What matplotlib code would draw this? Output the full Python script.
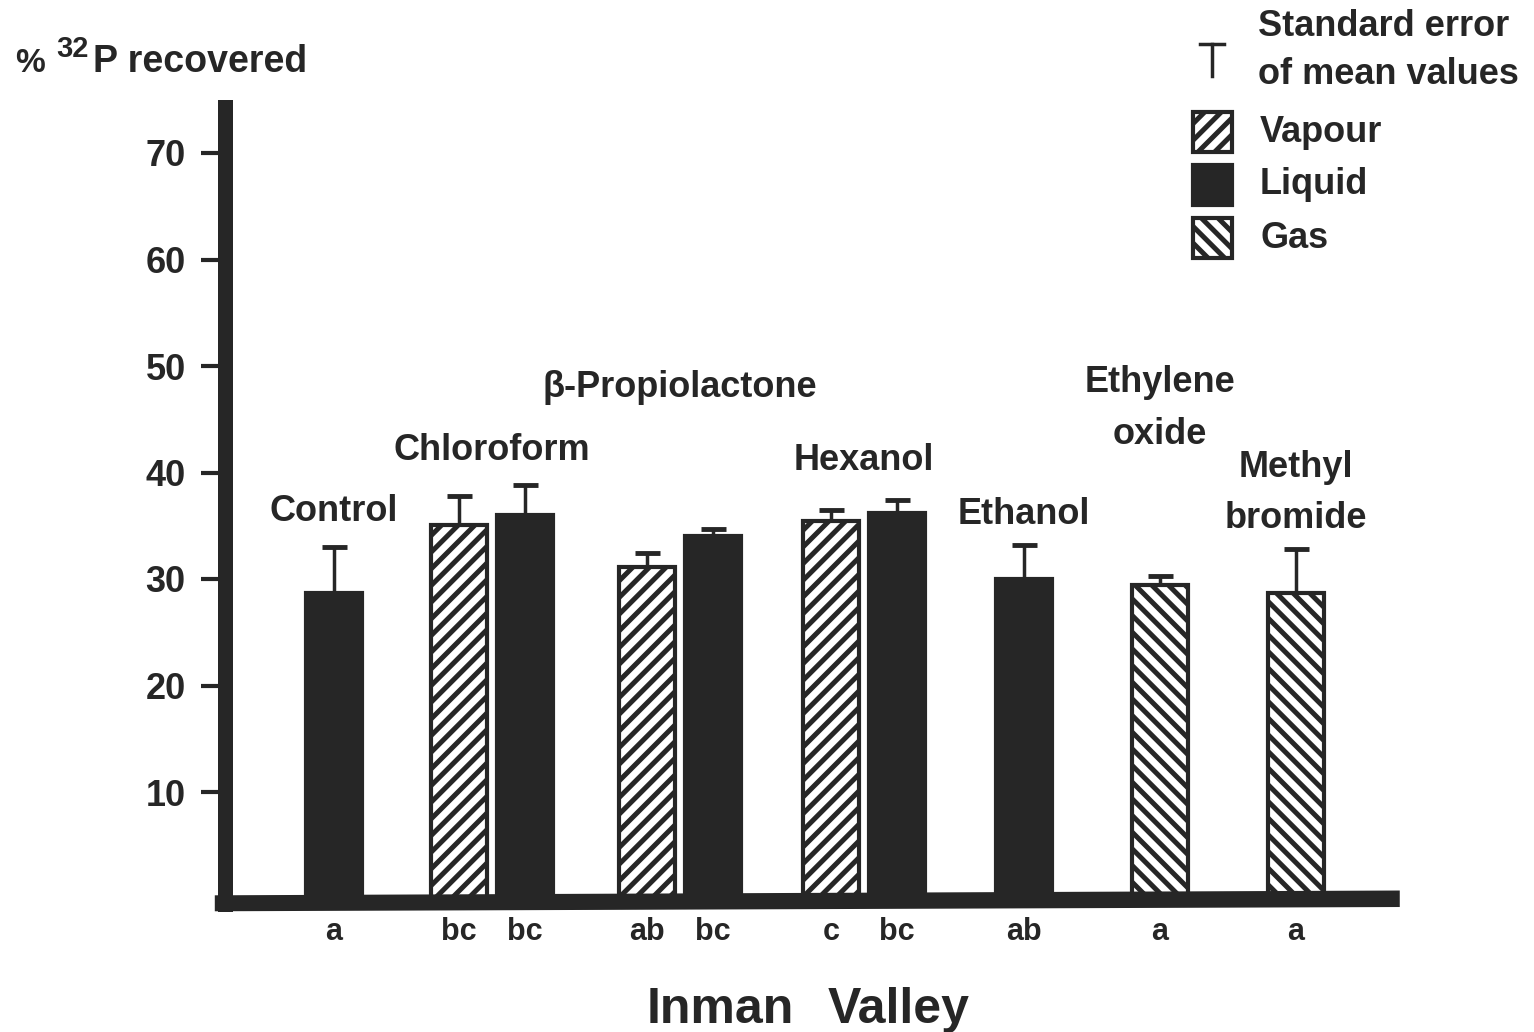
import matplotlib
matplotlib.use('Agg')
import matplotlib.pyplot as plt
from matplotlib.patches import Rectangle, Polygon
from matplotlib.lines import Line2D

plt.rcParams['font.family'] = ['Liberation Sans', 'DejaVu Sans']
plt.rcParams['font.weight'] = 'bold'
plt.rcParams['hatch.linewidth'] = 3.6

# treatments, one bar each
groups = ['Control', 'Chloroform', 'β-Propiolactone', 'Hexanol', 'Ethanol',
          'Ethylene\noxide', 'Methyl\nbromide']
bar_group = [0, 1, 1, 2, 2, 3, 3, 4, 5, 6]
bar_phase = ['Liquid', 'Vapour', 'Liquid', 'Vapour', 'Liquid', 'Vapour', 'Liquid',
             'Liquid', 'Gas', 'Gas']
means = [28.7, 35.1, 36.0, 31.1, 34.0, 35.4, 36.2, 30.0, 29.4, 28.7]
sems = [4.3, 2.7, 2.8, 1.3, 0.7, 1.1, 1.2, 3.2, 0.9, 4.1]
letters = ['a', 'bc', 'bc', 'ab', 'bc', 'c', 'bc', 'ab', 'a', 'a']
yticks = [10, 20, 30, 40, 50, 60, 70]

# layout
group_x = [1.93, 4.75, 8.1, 11.39, 14.25, 16.68, 19.1]
label_y = [36.3, 42.1, 48.0, 41.1, 36.1, 46.0, 38.1]
pair_off = 0.59
bar_w = 1.0

DARK = '#262626'
W, H = 1534, 1032
styles = {
    'Vapour': dict(facecolor='white', hatch='//'),
    'Liquid': dict(facecolor=DARK, hatch=None),
    'Gas': dict(facecolor='white', hatch='\\\\'),
}

fig = plt.figure(figsize=(W / 100, H / 100), dpi=100)
ax = fig.add_axes([226 / W, (H - 898.5) / H, 1176 / W, (898.5 - 99.75) / H])
ax.set_xlim(0, 21)
ax.set_ylim(0, 75)

# bar positions: single bars sit on the group centre, pairs straddle it
xs = []
for i, g in enumerate(bar_group):
    if bar_group.count(g) == 1:
        xs.append(group_x[g])
    else:
        first = bar_group.index(g)
        xs.append(group_x[g] + (-pair_off if i == first else pair_off))

for x, m, ph in zip(xs, means, bar_phase):
    ax.bar(x, m, width=bar_w, edgecolor=DARK, linewidth=3, zorder=2, **styles[ph])

ax.errorbar(xs, means, yerr=[[0] * len(sems), sems], fmt='none', ecolor=DARK,
            elinewidth=2.5, capsize=9, capthick=3.5, zorder=1)

for gx, gy, name in zip(group_x, label_y, groups):
    ax.text(gx, gy, name, ha='center', va='center', fontsize=26, color=DARK,
            linespacing=1.6)

for x, lt in zip(xs, letters):
    ax.text(x, -3.15, lt, ha='center', va='center', fontsize=22, color=DARK,
            clip_on=False)

# heavy axes drawn as filled bands
for s in ax.spines.values():
    s.set_visible(False)
ax.add_patch(Polygon([(-0.2, 0.3), (20.96, 0.75), (20.96, -0.8), (-0.2, -1.2)],
                     closed=True, facecolor=DARK, edgecolor='none',
                     clip_on=False, zorder=3))
ax.add_patch(Rectangle((-0.14, -1.25), 0.27, 76.25, facecolor=DARK,
                       edgecolor='none', clip_on=False, zorder=3))

ax.set_xticks([])
ax.set_yticks(yticks)
ax.tick_params(axis='y', length=18, width=3, pad=11, labelsize=26,
               color=DARK, labelcolor=DARK)
for lab in ax.get_yticklabels():
    lab.set_fontweight('bold')


def fx(px):
    return px / W


def fy(py):
    return 1 - py / H


# y axis caption, superscript set as its own smaller text
fig.text(fx(15), fy(63), '%', ha='left', va='center', fontsize=24, color=DARK)
fig.text(fx(56), fy(49), '32', ha='left', va='center', fontsize=21, color=DARK)
fig.text(fx(93), fy(62), 'P recovered', ha='left', va='center', fontsize=27,
         color=DARK)

# legend
fig.add_artist(Line2D([fx(1212), fx(1212)], [fy(44), fy(76)], color=DARK, lw=2.5))
fig.add_artist(Line2D([fx(1200), fx(1224)], [fy(44), fy(44)], color=DARK, lw=2.5))
fig.text(fx(1258), fy(27), 'Standard error', ha='left', va='center',
         fontsize=26, color=DARK)
fig.text(fx(1258), fy(75), 'of mean values', ha='left', va='center',
         fontsize=26, color=DARK)
for top, ph in zip([112, 165, 218], ['Vapour', 'Liquid', 'Gas']):
    fig.add_artist(Rectangle((fx(1193), fy(top + 40)), 39 / W, 40 / H,
                             transform=fig.transFigure, edgecolor=DARK,
                             linewidth=3, **styles[ph]))
    fig.text(fx(1260), fy(top + 20), ph, ha='left', va='center',
             fontsize=26, color=DARK)

# site name under the axis
fig.text(fx(647), fy(1010), 'Inman', ha='left', va='center', fontsize=36,
         color=DARK)
fig.text(fx(828), fy(1010), 'Valley', ha='left', va='center', fontsize=36,
         color=DARK)

fig.savefig('out.png', dpi=100, facecolor='white')
